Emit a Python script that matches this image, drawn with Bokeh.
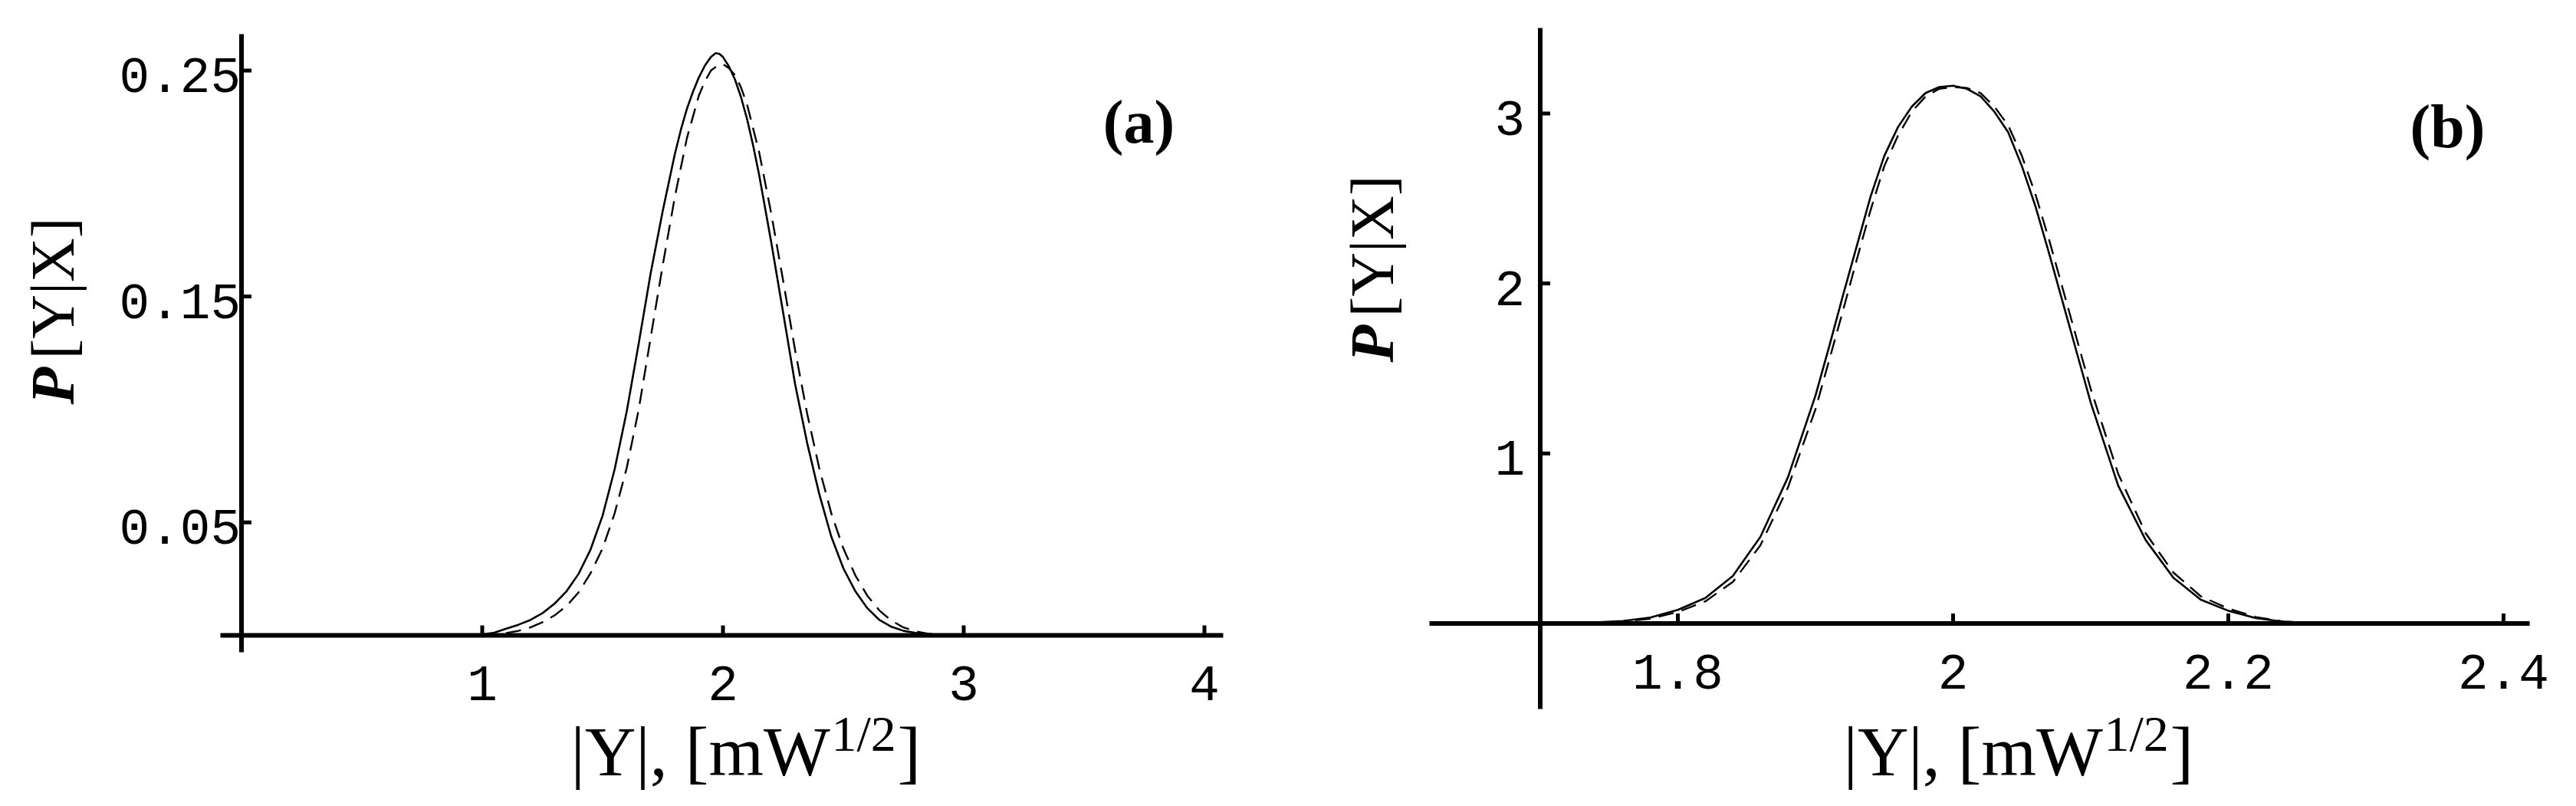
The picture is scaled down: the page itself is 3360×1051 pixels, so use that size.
import math
from bokeh.plotting import figure
from bokeh.models import Label
from bokeh.core.properties import value
from bokeh.layouts import row
from bokeh.embed import file_html
from bokeh.resources import INLINE

# ---------------- data: panel (a) ----------------
xa_solid = [0.90, 0.95, 1.00, 1.05, 1.10, 1.15, 1.20, 1.25, 1.30, 1.35, 1.40, 1.45, 1.50, 1.55,
            1.60, 1.65, 1.70, 1.75, 1.80, 1.825, 1.85, 1.875, 1.90, 1.925, 1.95, 1.97, 1.985,
            2.00, 2.025, 2.05, 2.075, 2.10, 2.125, 2.15, 2.20, 2.25, 2.30, 2.35, 2.40, 2.45,
            2.50, 2.55, 2.60, 2.65, 2.70, 2.75, 2.80, 2.85, 2.90, 2.95, 3.00]
ya_solid = [0.0000, 0.0001, 0.0004, 0.0012, 0.0030, 0.0047, 0.0068, 0.0098, 0.0140, 0.0195,
            0.0272, 0.0380, 0.0530, 0.0735, 0.0990, 0.1292, 0.1605, 0.1880, 0.2130, 0.2237,
            0.2330, 0.2405, 0.2470, 0.2522, 0.2560, 0.2577, 0.2574, 0.2560, 0.2518, 0.2460,
            0.2382, 0.2286, 0.2170, 0.2040, 0.1743, 0.1428, 0.1110, 0.0850, 0.0626, 0.0437,
            0.0297, 0.0195, 0.0120, 0.0068, 0.0038, 0.0020, 0.0011, 0.0005, 0.0002, 0.0000,
            0.0000]
xa_dash = [1.00, 1.05, 1.10, 1.15, 1.20, 1.25, 1.30, 1.35, 1.40, 1.45, 1.50, 1.55, 1.60, 1.65,
           1.70, 1.75, 1.80, 1.85, 1.90, 1.925, 1.95, 1.975, 2.00, 2.025, 2.05, 2.075, 2.10,
           2.15, 2.20, 2.25, 2.30, 2.35, 2.40, 2.45, 2.50, 2.55, 2.60, 2.65, 2.70, 2.75, 2.80,
           2.85, 2.90, 2.95, 3.00]
ya_dash = [0.0000, 0.0003, 0.0010, 0.0020, 0.0035, 0.0058, 0.0088, 0.0130, 0.0190, 0.0275,
           0.0385, 0.0540, 0.0740, 0.1000, 0.1320, 0.1640, 0.1940, 0.2200, 0.2390, 0.2452,
           0.2500, 0.2520, 0.2528, 0.2510, 0.2480, 0.2425, 0.2350, 0.2140, 0.1870, 0.1570,
           0.1260, 0.0980, 0.0740, 0.0540, 0.0385, 0.0265, 0.0175, 0.0110, 0.0065, 0.0035,
           0.0018, 0.0008, 0.0003, 0.0001, 0.0000]
xa_ticks = [1, 2, 3, 4]
xa_tick_labels = ["1", "2", "3", "4"]
ya_ticks = [0.05, 0.15, 0.25]
ya_tick_labels = ["0.05", "0.15", "0.25"]
xa_axis_span = [-0.0876, 4.078]     # extent of the drawn x axis line
ya_axis_span = [-0.0075, 0.2661]    # extent of the drawn y axis line
ya_axis_at = 0.0

# ---------------- data: panel (b) ----------------
xb = [1.70, 1.72, 1.74, 1.76, 1.78, 1.80, 1.82, 1.84, 1.86, 1.88, 1.90, 1.91, 1.92, 1.93, 1.94,
      1.95, 1.96, 1.97, 1.98, 1.99, 2.00, 2.01, 2.02, 2.03, 2.04, 2.05, 2.06, 2.07, 2.08, 2.09,
      2.10, 2.12, 2.14, 2.16, 2.18, 2.20, 2.22, 2.24, 2.26, 2.28, 2.30]
yb_solid = [0.000, 0.002, 0.006, 0.015, 0.035, 0.080, 0.150, 0.280, 0.510, 0.860, 1.340, 1.630,
            1.930, 2.220, 2.510, 2.750, 2.920, 3.040, 3.120, 3.155, 3.163, 3.145, 3.100, 3.010,
            2.890, 2.690, 2.450, 2.170, 1.880, 1.590, 1.300, 0.810, 0.490, 0.270, 0.140, 0.075,
            0.032, 0.010, 0.003, 0.001, 0.000]
yb_dash = [0.000, 0.001, 0.005, 0.012, 0.028, 0.068, 0.130, 0.245, 0.460, 0.800, 1.260, 1.550,
           1.840, 2.140, 2.430, 2.690, 2.870, 3.010, 3.100, 3.145, 3.155, 3.150, 3.120, 3.040,
           2.930, 2.750, 2.520, 2.250, 1.960, 1.670, 1.380, 0.880, 0.530, 0.300, 0.160, 0.088,
           0.038, 0.012, 0.004, 0.001, 0.000]
xb_ticks = [1.8, 2.0, 2.2, 2.4]
xb_tick_labels = ["1.8", "2", "2.2", "2.4"]
yb_ticks = [1, 2, 3]
yb_tick_labels = ["1", "2", "3"]
xb_axis_span = [1.6195, 2.419]
yb_axis_span = [-0.503, 3.502]
yb_axis_at = 1.7

SERIF = "Liberation Serif"
MONO = "Liberation Mono"


def make_panel(xs, ys, xd, yd, xt, xtl, yt, ytl, x_span, y_span, y_axis_at,
               canvas, origin, scale, xlab_off, ylab_off, panel_tag, tag_pos,
               ytitle_cx, p_start, bracket_start, xtitle_start, sup_start, close_start,
               main_mid, sup_mid):
    # canvas = (left, top, width, height) in page pixels
    # origin = page pixel of data point (x0, 0): (sx0, sy0, x0); scale = px per x / y unit
    cl, ct, w, h = canvas
    sx0, sy0, x0 = origin
    kx, ky = scale

    def X(sx):
        return x0 + (sx - sx0) / kx

    def Y(sy):
        return (sy0 - sy) / ky

    p = figure(width=w, height=h, x_range=(X(cl), X(cl + w)), y_range=(Y(ct + h), Y(ct)),
               x_axis_type=None, y_axis_type=None,
               output_backend="svg", toolbar_location=None,
               min_border_left=0, min_border_right=0, min_border_top=0, min_border_bottom=0)
    p.outline_line_color = None
    p.background_fill_color = "white"
    p.border_fill_color = "white"

    # curves
    p.line(xs, ys, line_color="black", line_width=2.6)
    p.line(xd, yd, line_color="black", line_width=2.4, line_dash="20 11")

    # axis lines (crossing at the origin of the axes)
    p.segment(x0=[x_span[0]], y0=[0], x1=[x_span[1]], y1=[0], line_color="black", line_width=6)
    p.segment(x0=[y_axis_at], y0=[y_span[0]], x1=[y_axis_at], y1=[y_span[1]],
              line_color="black", line_width=6)

    # inward ticks
    p.ray(x=xt, y=[0] * len(xt), length=13, length_units="screen", angle=math.pi / 2,
          line_color="black", line_width=5)
    p.ray(x=[y_axis_at] * len(yt), y=yt, length=13, length_units="screen", angle=0,
          line_color="black", line_width=5)

    # tick labels
    p.text(x=xt, y=[0] * len(xt), text=xtl, text_font=value(MONO), text_font_size="66px",
           text_align="center", text_baseline="top", y_offset=xlab_off, text_color="black")
    p.text(x=[y_axis_at] * len(yt), y=yt, text=ytl, text_font=value(MONO),
           text_font_size="66px", text_align="right", text_baseline="middle",
           x_offset=-ylab_off, y_offset=6, text_color="black")

    # panel tag
    p.add_layout(Label(x=X(tag_pos[0]), y=Y(tag_pos[1]), text=panel_tag,
                       text_font=SERIF, text_font_style="bold", text_font_size="80px",
                       text_align="center", text_baseline="middle", text_color="black"))
    # y title: P[Y|X]
    p.add_layout(Label(x=X(ytitle_cx), y=Y(p_start), text="P", angle=math.pi / 2,
                       text_font=SERIF, text_font_style="bold italic", text_font_size="80px",
                       text_align="left", text_baseline="middle", text_color="black"))
    p.add_layout(Label(x=X(ytitle_cx), y=Y(bracket_start), text="[Y|X]", angle=math.pi / 2,
                       text_font=SERIF, text_font_size="80px",
                       text_align="left", text_baseline="middle", text_color="black"))
    # x title: |Y|, [mW^{1/2}]
    p.add_layout(Label(x=X(xtitle_start), y=Y(main_mid), text="|Y|, [mW",
                       text_font=SERIF, text_font_size="92px",
                       text_align="left", text_baseline="middle", text_color="black"))
    p.add_layout(Label(x=X(sup_start), y=Y(sup_mid), text="1/2",
                       text_font=SERIF, text_font_size="66px",
                       text_align="left", text_baseline="middle", text_color="black"))
    p.add_layout(Label(x=X(close_start), y=Y(main_mid), text="]",
                       text_font=SERIF, text_font_size="92px",
                       text_align="left", text_baseline="middle", text_color="black"))
    return p


pa = make_panel(xa_solid, ya_solid, xa_dash, ya_dash,
                xa_ticks, xa_tick_labels, ya_ticks, ya_tick_labels,
                xa_axis_span, ya_axis_span, ya_axis_at,
                (8, 8, 1692, 1035), (322.5, 836, 0.0), (314.0, 2946.0), 40, 1,
                "(a)", (1493, 166),
                76, 535, 476, 752, 1092, 1178, 987, 964)

pb = make_panel(xb, yb_solid, xb, yb_dash,
                xb_ticks, xb_tick_labels, yb_ticks, yb_tick_labels,
                xb_axis_span, yb_axis_span, yb_axis_at,
                (1700, 8, 1652, 1035), (2555, 820.5, 2.0), (1795.0, 221.7), 41, 20,
                "(b)", (3200, 172),
                1797, 480, 421, 2412, 2752, 2838, 987, 964)

layout = row(pa, pb)
open("out.html", "w").write(file_html(layout, INLINE))
